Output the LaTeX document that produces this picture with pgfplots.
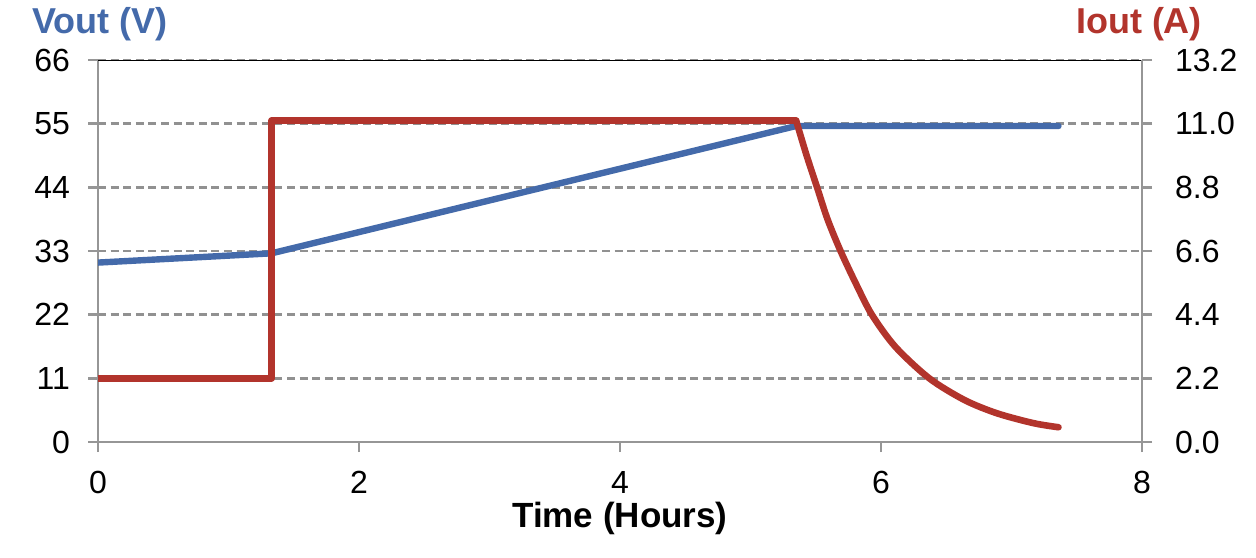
\documentclass[border=0pt]{standalone}
\usepackage{pgfplots}
\pgfplotsset{compat=1.18}
\usepackage{fontspec}
\setmainfont{Liberation Sans}
\definecolor{vblue}{RGB}{68,106,170}
\definecolor{ired}{RGB}{178,52,44}
\definecolor{gridgray}{RGB}{145,145,145}
\definecolor{axgray}{RGB}{150,150,150}
\begin{document}
\fontsize{16}{19}\selectfont
\begin{tikzpicture}
\pgfplotsset{
  common/.style={
    scale only axis, width=522pt, height=191pt,
    at={(0,0)}, anchor=south west,
    xmin=0, xmax=8,
    /pgf/number format/assume math mode=true,
    tick align=outside, major tick length=5pt,
    axis line style={axgray, line width=1.2pt, -},
    tick style={axgray, line width=1.2pt},
    ticklabel style={font=\fontsize{16}{19}\selectfont, black},
  }
}
\begin{axis}[common,
  ymin=0, ymax=66,
  axis x line*=bottom, axis y line*=left,
  xtick={0,2,4,6,8}, ytick={0,11,22,33,44,55,66},
  ymajorgrids,
  major grid style={gridgray, line width=1.2pt, dash pattern=on 4pt off 2.3pt},
  xticklabel style={yshift=-4pt},
  yticklabel style={xshift=-3.5pt},
  xlabel={\textbf{Time (Hours)}},
  xlabel style={at={(axis description cs:0.5,0)}, anchor=center, yshift=-38pt, font=\fontsize{17.5}{20}\selectfont},
]
\addplot[vblue, line width=3.2pt, line join=round, line cap=round] coordinates {
  (0,31.0) (1.33,32.6) (5.35,54.6) (7.36,54.6)
};
\draw[black, line width=0.9pt] (axis cs:0,66) -- (axis cs:8,66);
\end{axis}
\begin{axis}[common,
  ymin=0, ymax=13.2,
  axis x line=none, axis y line*=right,
  ytick={0,2.2,4.4,6.6,8.8,11,13.2},
  yticklabel style={xshift=6pt, /pgf/number format/fixed, /pgf/number format/fixed zerofill, /pgf/number format/precision=1},
]
\addplot[ired, line width=3.3pt, line join=round, line cap=round] coordinates {
  (0,2.2) (1.33,2.2) (1.33,11.1) (5.35,11.1)
};
\addplot[ired, line width=3.3pt, line join=round, line cap=round, smooth, tension=0.5] coordinates {
  (5.35,11.1) (5.43,9.9) (5.51,8.8) (5.59,7.7) (5.69,6.6) (5.81,5.45)
  (5.93,4.4) (6.11,3.29) (6.37,2.2) (6.64,1.45) (6.89,0.99) (7.17,0.65) (7.36,0.51)
};
\end{axis}
\node[font=\bfseries\fontsize{18}{21}\selectfont, text=vblue] at (1pt,209pt) {Vout (V)};
\node[font=\bfseries\fontsize{18}{21}\selectfont, text=ired] at (520.5pt,209pt) {Iout (A)};
\pgfresetboundingbox
\path (-49pt,-57.5pt) rectangle (579pt,221pt);
\end{tikzpicture}
\end{document}
